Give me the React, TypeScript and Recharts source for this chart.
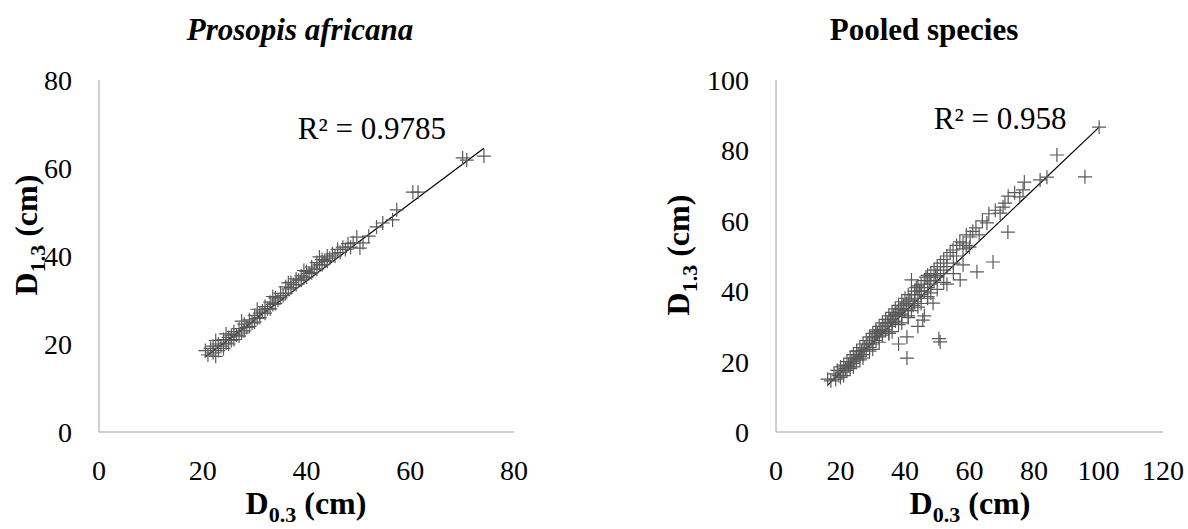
import React from 'react';
import { ScatterChart, Scatter, XAxis, YAxis, ReferenceLine, ReferenceDot, Label } from 'recharts';

// Prosopis africana: D0.3 vs D1.3 (cm)
const pafD03 = [
  20.5, 21, 21.5, 22, 22, 22.5, 23, 23, 23.5, 24, 24, 24.5, 25, 25, 25.5, 25.5, 26, 26, 26.5, 27, 27, 27.5,
  28, 28, 28.5, 29, 29, 29.5, 30, 30, 30.5, 31, 31, 31.5, 32, 32, 32.5, 33, 33, 33.5, 34, 34, 34.5, 35, 35,
  35.5, 36, 36, 36.5, 37, 37, 37.5, 38, 38, 38.5, 39, 39, 39.5, 40, 40, 40.5, 41, 41, 41.5, 42, 42, 42.5,
  43, 43, 43.5, 44, 44, 44.5, 45, 45.5, 46, 46.5, 47, 47.5, 48, 48.5, 49, 49.7, 50.3, 50.9, 52, 53.5, 54.7,
  56.6, 57.4, 60.5, 61.5, 70.1, 70.9, 74.2, 22.5, 24.5, 27.5, 30.5, 33.5, 36.5, 39.5, 42.5,
];
const pafD13 = [
  18.5, 17.5, 19, 18, 19.5, 17.2, 20, 18.5, 19.5, 21, 19, 20.2, 21.5, 20, 22, 20.8, 21, 22.8, 22, 23.5, 21.8, 22.5,
  24.5, 23, 23.8, 25.5, 24, 24.8, 26.5, 25, 25.8, 27, 26, 27.5, 28.5, 27, 28, 29.5, 28, 29, 30.5, 29.2, 30, 31.5, 30.5,
  31, 33, 31.5, 32.5, 34, 32.8, 33.5, 34.8, 33.5, 34.5, 35.5, 34.5, 35, 36.5, 35.2, 36, 37.5, 36.2, 37, 38.5, 37, 38,
  39.2, 38, 39, 40, 38.8, 39.5, 40.5, 40, 41.5, 40.8, 42, 41.5, 42.8, 42, 43, 44.3, 41.8, 43, 44.5, 46.6, 47.5,
  48.2, 50.5, 54.5, 54.5, 62.3, 61.8, 62.7, 20.8, 22.3, 25.2, 27.9, 30.8, 33.9, 36.7, 39.8,
];
const pafTrendX = [20.4, 74.2];
const pafTrendY = [17.0, 64.5];
const pafR2 = 'R² = 0.9785';

// Pooled species
const poolD03 = [
  16, 17, 18, 18.5, 19, 19.5, 20, 20.5, 21, 21, 21.5, 22, 22, 22.5, 23, 23, 23.5, 24, 24, 24.5, 25, 25, 25.5,
  26, 26, 26.5, 27, 27, 27.5, 28, 28, 28.5, 29, 29, 29.5, 30, 30, 30.5, 31, 31, 31.5, 32, 32, 32.5, 33, 33, 33.5,
  34, 34, 34.5, 35, 35, 35.5, 36, 36, 36.5, 37, 37, 37.5, 38, 38, 38.5, 39, 39, 39.5, 40, 40, 40.5, 41, 41, 41.5,
  42, 42, 42.5, 43, 43, 43.5, 44, 44, 44.5, 45, 45, 45.5, 46, 46, 46.5, 47, 47, 47.5, 48, 48.7, 48, 49, 49, 49.5,
  50, 50, 50.9, 50.5, 51, 51, 52, 52, 53, 53, 54, 54.9, 55, 56, 56, 57, 57.1, 58, 58, 59, 59, 60.2, 60, 61, 62,
  62.3, 63, 64, 65.4, 66, 67.3, 68, 69.5, 70.4, 71, 71.9, 72, 74, 75.6, 76.6, 77, 81.9, 84, 87.1, 95.8, 100.2,
  40.6, 40.6, 38, 44, 46, 24, 27, 30, 33, 36, 39, 42, 45, 48, 52, 55, 58, 35, 41, 47, 53,
  20, 23, 26, 29, 32, 35, 38, 41, 44, 47, 50, 25, 31, 37, 43,
];
const poolD13 = [
  15, 14.5, 16.5, 15, 17.5, 16, 18.5, 17, 16, 19, 18, 20, 17.5, 19, 21, 18.5, 20, 22, 19.5, 21, 23, 20.5, 22,
  24, 21.5, 23, 25, 22, 24, 26, 23.5, 25, 27, 24, 26, 28, 25, 27, 29, 26, 28, 30, 27, 29, 31, 28, 30,
  32, 29, 31, 33, 30, 32, 34, 31, 33, 35, 31.5, 34, 36, 33, 35, 37, 33.5, 36, 38, 34.5, 36.5, 39, 35, 37.5,
  43.2, 39, 36, 40, 37, 41, 41.5, 38, 40, 42, 39, 31.8, 43, 40, 44, 44.5, 41, 43, 45, 36.6, 42, 46, 43, 44.5,
  47, 44, 25.6, 26.5, 48, 45, 49, 46, 50, 47, 51, 51.7, 48, 53, 50, 54, 43.2, 53.7, 52, 56, 53, 55.4, 52.5, 57, 58,
  45.5, 56, 60, 59.4, 62, 48.3, 63, 62.2, 63.9, 65, 56.8, 67, 68, 66.8, 68.8, 71, 71.6, 72.4, 78.7, 72.5, 86.6,
  21, 27, 25, 30, 33, 18.5, 21, 23.5, 27.5, 28.5, 31, 34.5, 36.5, 39.5, 42.5, 45, 47.5, 28, 32.5, 38.5, 42,
  15.5, 18, 20.5, 23, 25.5, 28, 30.5, 33, 35.5, 38, 40.5, 23, 28.5, 33.5, 39,
];
const poolTrendX = [16.1, 100.2];
const poolTrendY = [13.4, 86.6];
const poolR2 = 'R² = 0.958';

const pafTicksX = [0, 20, 40, 60, 80];
const pafTicksY = [0, 20, 40, 60, 80];
const poolTicksX = [0, 20, 40, 60, 80, 100, 120];
const poolTicksY = [0, 20, 40, 60, 80, 100];

const FONT = '"Liberation Serif", "Times New Roman", serif';
const AXIS = '#a0a0a0';
const MARK = '#595959';

const toPoints = (xs: number[], ys: number[]) => xs.map((x, i) => ({ x, y: ys[i] }));

const Plus = (props: any) => {
  const { cx, cy } = props;
  if (cx == null || cy == null) return null;
  return (
    <path
      d={`M${cx - 7},${cy}H${cx + 7}M${cx},${cy - 7}V${cy + 7}`}
      stroke={MARK}
      strokeWidth={1.2}
      fill="none"
    />
  );
};

const AxisTitle = ({ x, y, sub, vertical }: { x: number; y: number; sub: string; vertical?: boolean }) => (
  <text
    x={x}
    y={y}
    textAnchor="middle"
    style={{ fontFamily: FONT, fontWeight: 'bold', fontSize: 32 }}
    fill="#000"
    transform={vertical ? `rotate(-90, ${x}, ${y})` : undefined}
  >
    <tspan>D</tspan>
    <tspan dy={8} style={{ fontSize: 22 }}>{sub}</tspan>
    <tspan dy={-8}> (cm)</tspan>
  </text>
);

const tickStyle = { fontSize: 28, fill: '#000', style: { fontFamily: FONT } };

type PanelProps = {
  points: { x: number; y: number }[];
  trend: { x: number; y: number }[];
  r2: string;
  r2At: { x: number; y: number };
  ticksX: number[];
  ticksY: number[];
  yAxisWidth: number;
  marginRight: number;
  yTitle: { x: number; y: number };
  xTitleX: number;
};

const Panel = (p: PanelProps) => (
  <ScatterChart
    width={594}
    height={529}
    margin={{ top: 80, right: p.marginRight, left: 0, bottom: 0 }}
    style={{ fontFamily: FONT }}
  >
    <XAxis
      type="number"
      dataKey="x"
      domain={[p.ticksX[0], p.ticksX[p.ticksX.length - 1]]}
      ticks={p.ticksX}
      height={97}
      stroke={AXIS}
      tickLine={false}
      tickMargin={22}
      tick={tickStyle}
      interval={0}
    >
      <Label content={() => <AxisTitle x={p.xTitleX} y={514} sub="0.3" />} />
    </XAxis>
    <YAxis
      type="number"
      dataKey="y"
      domain={[p.ticksY[0], p.ticksY[p.ticksY.length - 1]]}
      ticks={p.ticksY}
      width={p.yAxisWidth}
      stroke={AXIS}
      tickLine={false}
      tickMargin={21}
      tick={tickStyle}
      interval={0}
    >
      <Label content={() => <AxisTitle x={p.yTitle.x} y={p.yTitle.y} sub="1.3" vertical />} />
    </YAxis>
    <Scatter data={p.points} shape={<Plus />} isAnimationActive={false} />
    <ReferenceLine segment={p.trend} stroke="#000" strokeWidth={1.2} />
    <ReferenceDot
      x={p.r2At.x}
      y={p.r2At.y}
      r={1}
      fill="none"
      stroke="none"
      label={{ value: p.r2, position: 'center', fontSize: 31, fill: '#000', style: { fontFamily: FONT } }}
    />
  </ScatterChart>
);

const titleStyle: React.CSSProperties = {
  position: 'absolute',
  top: 14,
  width: 300,
  textAlign: 'center',
  fontFamily: FONT,
  fontWeight: 'bold',
  fontSize: 31,
  lineHeight: '31px',
  color: '#000',
};

export default function App() {
  return (
    <div style={{ position: 'absolute', left: 0, top: 0, width: 1188, height: 529, background: '#fff', fontFamily: FONT }}>
      <div style={{ ...titleStyle, left: 150, fontStyle: 'italic' }}>Prosopis africana</div>
      <div style={{ ...titleStyle, left: 774 }}>Pooled species</div>
      <div style={{ position: 'absolute', left: 0, top: 0 }}>
        <Panel
          points={toPoints(pafD03, pafD13)}
          trend={toPoints(pafTrendX, pafTrendY)}
          r2={pafR2}
          r2At={{ x: 52.6, y: 69.1 }}
          ticksX={pafTicksX}
          ticksY={pafTicksY}
          yAxisWidth={99}
          marginRight={80}
          yTitle={{ x: 37, y: 235 }}
          xTitleX={306}
        />
      </div>
      <div style={{ position: 'absolute', left: 594, top: 0 }}>
        <Panel
          points={toPoints(poolD03, poolD13)}
          trend={toPoints(poolTrendX, poolTrendY)}
          r2={poolR2}
          r2At={{ x: 69.5, y: 89.2 }}
          ticksX={poolTicksX}
          ticksY={poolTicksY}
          yAxisWidth={182}
          marginRight={25}
          yTitle={{ x: 95, y: 255 }}
          xTitleX={376}
        />
      </div>
    </div>
  );
}
